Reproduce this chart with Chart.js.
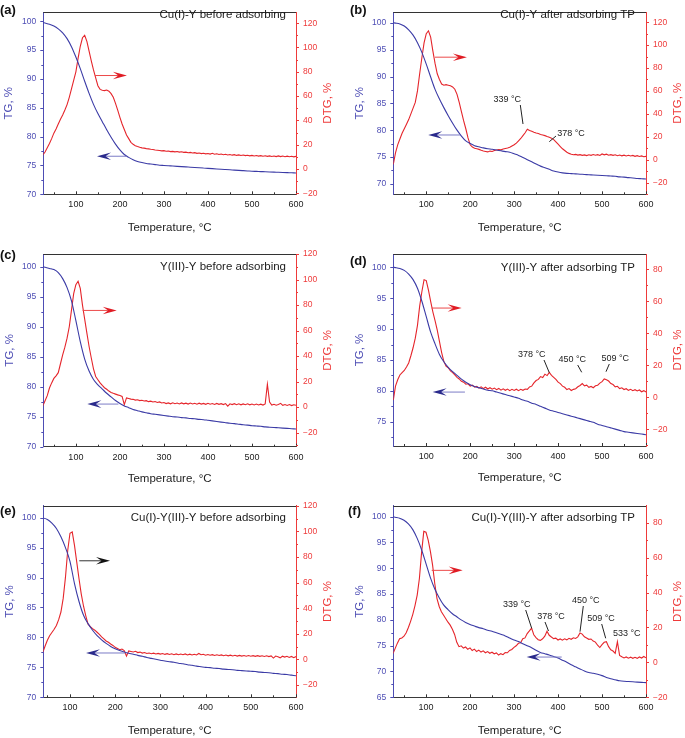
<!DOCTYPE html>
<html>
<head>
<meta charset="utf-8">
<script src="https://cdn.jsdelivr.net/npm/chart.js@4.4.1/dist/chart.umd.min.js"></script>
<style>
  body { margin: 0; background: #fff; width: 685px; height: 738px; position: relative; overflow: hidden; }
  canvas { position: absolute; }
</style>
</head>
<body>
<canvas id="chartA" width="340" height="240" style="left:0;top:0"></canvas>
<canvas id="chartB" width="345" height="240" style="left:340px;top:0"></canvas>
<canvas id="chartC" width="340" height="245" style="left:0;top:240px"></canvas>
<canvas id="chartD" width="345" height="245" style="left:340px;top:240px"></canvas>
<canvas id="chartE" width="340" height="253" style="left:0;top:485px"></canvas>
<canvas id="chartF" width="345" height="253" style="left:340px;top:485px"></canvas>
<script>
// ----- data
const tgTemps = [25, 30, 40, 50, 60, 70, 80, 90, 100, 110,
  120, 130, 140, 150, 160, 170, 180, 190, 200, 210,
  220, 230, 240, 250, 260, 270, 280, 290, 300, 310,
  320, 330, 340, 350, 360, 370, 380, 390, 400, 410,
  420, 430, 440, 450, 460, 470, 480, 490, 500, 510,
  520, 530, 540, 550, 560, 570, 580, 590, 600];

const dtgTemps = [25, 30, 35, 40, 45, 50, 55, 60, 65, 70,
  75, 80, 85, 90, 95, 100, 105, 110, 115, 120,
  125, 130, 135, 140, 145, 150, 155, 160, 165, 170,
  175, 180, 185, 190, 195, 200, 205, 210, 215, 220,
  225, 230, 235, 240, 245, 250, 255, 260, 265, 270,
  275, 280, 285, 290, 295, 300, 305, 310, 315, 320,
  325, 330, 335, 340, 345, 350, 355, 360, 365, 370,
  375, 380, 385, 390, 395, 400, 405, 410, 415, 420,
  425, 430, 435, 440, 445, 450, 455, 460, 465, 470,
  475, 480, 485, 490, 495, 500, 505, 510, 515, 520,
  525, 530, 535, 540, 545, 550, 555, 560, 565, 570,
  575, 580, 585, 590, 595, 600];

const xTicks = [100, 200, 300, 400, 500, 600];
const tgTicks70 = [70, 75, 80, 85, 90, 95, 100];
const tgTicks75 = [75, 80, 85, 90, 95, 100];
const tgTicks65 = [65, 70, 75, 80, 85, 90, 95, 100];
const dtgTicks120 = [-20, 0, 20, 40, 60, 80, 100, 120];
const dtgTicks80 = [-20, 0, 20, 40, 60, 80];

// (a) Cu(I)-Y before adsorbing
const tgA = [99.8, 99.7, 99.5, 99.2, 98.7, 98.0, 97.0, 95.6, 93.8, 91.8,
  89.6, 87.5, 85.6, 84.0, 82.6, 81.2, 79.9, 78.7, 77.7, 76.9,
  76.4, 76.0, 75.7, 75.5, 75.35, 75.25, 75.15, 75.05, 75.0, 74.95,
  74.9, 74.85, 74.8, 74.75, 74.7, 74.65, 74.6, 74.55, 74.5, 74.45,
  74.4, 74.35, 74.3, 74.25, 74.2, 74.15, 74.1, 74.05, 74.0, 73.97,
  73.94, 73.91, 73.88, 73.85, 73.82, 73.79, 73.76, 73.73, 73.7];
const dtgA = [11.5, 14, 17.5, 21, 25, 29.5, 33, 37, 41, 44.5,
  48.5, 53, 59, 66, 73, 80, 91, 101, 108, 110,
  105, 97, 89, 81.5, 75, 68.5, 65.5, 64.8, 64.5, 65,
  64, 62, 59, 54, 48.5, 42.5, 37, 32.5, 28, 25,
  22, 20.3, 19.2, 18.5, 17.9, 17.4, 17.2, 16.8, 16.6, 16.2,
  16.0, 15.6, 15.4, 15.2, 14.9, 15.1, 14.6, 14.8, 14.3, 14.5,
  14.1, 14.4, 13.9, 14.2, 13.7, 13.9, 13.4, 13.7, 13.2, 13.5,
  12.9, 13.2, 12.7, 13.0, 12.5, 12.8, 12.3, 12.9, 12.2, 12.5,
  11.9, 12.3, 11.8, 12.1, 11.6, 11.9, 11.4, 11.8, 11.2, 11.6,
  11.1, 11.5, 11.0, 11.3, 10.8, 11.2, 10.7, 11.1, 10.6, 11.0,
  10.5, 10.9, 10.4, 10.8, 10.3, 10.7, 10.2, 10.8, 10.2, 10.7,
  10.1, 10.6, 10.1, 10.5, 10.0, 10.4];

// (b) Cu(I)-Y after adsorbing TP
const tgB = [100.0, 99.95, 99.8, 99.4, 98.7, 97.7, 96.3, 94.5, 92.3, 89.9,
  87.6, 85.8, 84.2, 82.7, 81.3, 80.0, 78.9, 78.0, 77.5, 77.1,
  76.9, 76.7, 76.55, 76.45, 76.3, 76.15, 76.0, 75.9, 75.6, 75.3,
  74.9, 74.5, 74.1, 73.7, 73.3, 73.0, 72.7, 72.4, 72.2, 72.05,
  71.95, 71.9, 71.85, 71.8, 71.75, 71.7, 71.65, 71.6, 71.55, 71.5,
  71.45, 71.4, 71.3, 71.25, 71.15, 71.1, 71.0, 70.95, 70.9];
const dtgB = [-4, 6, 13, 18, 23, 27, 31, 35, 40, 45,
  50, 60, 75, 89, 102, 110, 112.5, 107, 95, 84,
  75, 70, 66, 65, 65.5, 65, 64.5, 63.5, 61.5, 57,
  50, 42, 34, 27, 19, 13, 11, 10, 9.5, 9,
  8.2, 7.6, 7.2, 6.8, 7.5, 7.2, 8, 8.4, 8.8, 8.6,
  9.4, 9.8, 10.2, 10.8, 12, 13, 14.5, 16.5, 18.5, 21,
  23.5, 26.5, 25.5, 24.8, 24, 23.3, 22.8, 22, 21.5, 21,
  20.2, 19.6, 18.8, 17.5, 15.5, 13.5, 11.5, 9.5, 8, 6.5,
  5.5, 4.8, 4.3, 4.6, 4, 4.4, 3.8, 4.2, 3.6, 4.3,
  3.8, 4.5, 3.9, 4.4, 3.7, 5, 4.2, 4.8, 3.9, 4.4,
  3.8, 4.3, 3.5, 4.1, 3.4, 4, 3.3, 3.9, 3.2, 3.7,
  2.9, 3.5, 2.8, 3.3, 2.6, 2.9];

// (c) Y(III)-Y before adsorbing
const tgC = [100, 99.9, 99.7, 99.5, 99.0, 98.0, 96.5, 94.3, 91.0, 87.5,
  84.6, 82.6, 81.2, 80.3, 79.6, 78.9, 78.3, 77.7, 77.2, 76.8,
  76.5, 76.2, 76.0, 75.8, 75.65, 75.5, 75.4, 75.3, 75.2, 75.1,
  75.0, 74.95, 74.85, 74.8, 74.7, 74.65, 74.55, 74.5, 74.4, 74.3,
  74.2, 74.1, 74.0, 73.9, 73.85, 73.75, 73.65, 73.6, 73.5, 73.45,
  73.4, 73.3, 73.25, 73.2, 73.15, 73.1, 73.05, 73.0, 72.95];
const dtgC = [1, 5, 9, 15, 19, 22.5, 24.5, 27, 34, 41,
  47, 54, 63, 76, 89, 96, 98.6, 93, 80, 69,
  58, 47.5, 38.5, 30, 24, 21.5, 19, 17, 15.2, 14,
  12.6, 11.5, 10.8, 10.2, 9.6, 9.1, 8.4, 2, 7.2, 6.8,
  6.3, 6.1, 5.5, 5.8, 5.1, 5.4, 4.8, 5.1, 4.3, 4.7,
  4.0, 4.4, 3.7, 4.1, 3.3, 3.6, 2.8, 3.3, 2.6, 3.4,
  2.7, 3.2, 2.5, 3.3, 2.6, 3.1, 2.4, 3.2, 2.5, 3.0,
  2.3, 3.1, 2.4, 2.9, 2.2, 3.0, 2.3, 2.8, 2.1, 2.9,
  2.2, 2.7, 2.0, 2.8, 0.8, 2.6, 2.0, 2.7, 1.9, 2.6,
  1.8, 2.5, 1.9, 2.6, 1.8, 2.4, 1.7, 2.4, 1.7, 2.3,
  1.6, 2.5, 18, 4, 1.6, 2.2, 1.5, 2.1, 3.0, 1.4,
  2.0, 1.3, 2.0, 1.2, 1.9, 1.5];

// (d) Y(III)-Y after adsorbing TP
const tgD = [100, 99.95, 99.8, 99.5, 98.9, 98.0, 96.6, 94.5, 92.0, 89.5,
  87.6, 85.9, 84.7, 83.8, 83.1, 82.5, 81.9, 81.4, 81.0, 80.7,
  80.5, 80.3, 80.1, 80.0, 79.8, 79.6, 79.4, 79.2, 79.0, 78.8,
  78.5, 78.3, 78.0, 77.8, 77.5, 77.2, 76.9, 76.7, 76.5, 76.3,
  76.1, 75.9, 75.7, 75.5, 75.3, 75.1, 74.9, 74.6, 74.4, 74.2,
  74.0, 73.8, 73.6, 73.4, 73.3, 73.2, 73.1, 73.0, 72.9];
const dtgD = [-1.7, 7, 11, 14, 15.5, 16.8, 19, 21.5, 26, 31,
  37, 45, 57, 66, 73.5, 73, 67, 60, 53.5, 48,
  42, 35, 28, 22.5, 19.5, 18.5, 16.5, 15.5, 14, 12.5,
  11.5, 10, 9.5, 8.2, 8.5, 7.1, 7.6, 6.4, 6.9, 5.8,
  6.6, 5.5, 6.3, 5.2, 6.0, 5.1, 5.8, 4.8, 5.6, 4.5,
  5.3, 4.4, 5.2, 4.2, 5.0, 4.3, 5.1, 4.2, 5.0, 4.4,
  5.2, 5.0, 6.5, 7.0, 9.0, 10.5, 11.2, 13.0, 12.4, 14.5,
  13.6, 15.6, 13.8, 12.5, 11.2, 9.5, 8.6, 7.0, 6.3, 4.9,
  5.5, 4.3, 5.0, 5.4, 6.6, 7.4, 8.6, 7.2, 7.6, 6.3,
  6.8, 6.0, 7.2, 7.6, 8.9, 9.8, 11.5, 11.0, 10.2, 8.6,
  8.0, 6.6, 6.9, 5.5, 6.0, 4.9, 5.4, 4.4, 5.0, 4.2,
  4.8, 4.0, 4.6, 3.5, 4.2, 3.4];

// (e) Cu(I)-Y(III)-Y before adsorbing
const tgE = [100, 100, 99.95, 99.7, 99.1, 98.2, 96.8, 95.0, 92.7, 89.0,
  86.0, 83.7, 82.3, 81.2, 80.3, 79.6, 79.0, 78.5, 78.1, 77.8,
  77.55, 77.35, 77.2, 77.0, 76.85, 76.65, 76.5, 76.35, 76.2, 76.05,
  75.95, 75.85, 75.7, 75.6, 75.45, 75.35, 75.2, 75.1, 75.0, 74.95,
  74.85, 74.8, 74.7, 74.65, 74.6, 74.5, 74.45, 74.4, 74.35, 74.3,
  74.2, 74.15, 74.1, 74.0, 73.95, 73.85, 73.8, 73.7, 73.6];
const dtgE = [0, 1, 3, 5.5, 10.5, 15, 18.5, 21, 23.5, 26.5,
  31, 37, 47.6, 64, 85, 98.5, 99.5, 89, 76, 63,
  51, 41.5, 34, 27.5, 25.5, 24, 22.8, 21.2, 19.5, 17.6,
  16, 14.4, 13.4, 12, 10.9, 9.4, 8.6, 7.6, 8.1, 6.9,
  2.5, 6.6, 6.2, 5.8, 6.3, 5.3, 5.7, 4.9, 5.4, 4.6,
  5.0, 4.4, 4.9, 4.2, 4.7, 4.1, 4.6, 3.9, 4.5, 3.8,
  4.4, 3.7, 4.3, 3.6, 4.2, 3.6, 4.3, 3.5, 4.1, 3.4,
  4.0, 3.5, 4.6, 3.6, 4.0, 3.3, 3.8, 3.2, 3.7, 3.1,
  3.6, 3.0, 3.5, 2.9, 3.4, 2.8, 3.3, 2.7, 3.2, 2.6,
  3.1, 2.6, 3.0, 2.5, 3.0, 2.5, 2.9, 2.4, 2.9, 2.4,
  2.8, 2.3, 2.8, 2.2, 2.7, 1.0, 2.6, 2.1, 1.2, 2.5,
  1.8, 2.4, 1.5, 2.3, 1.3, 2.2];

// (f) Cu(I)-Y(III)-Y after adsorbing TP
const tgF = [100, 99.9, 99.7, 99.3, 98.6, 97.5, 95.8, 93.6, 90.9, 88.2,
  86.0, 84.3, 82.9, 82.0, 81.2, 80.6, 80.0, 79.5, 79.1, 78.8,
  78.5, 78.3, 78.0, 77.8, 77.5, 77.2, 76.9, 76.5, 76.1, 75.8,
  75.4, 75.0, 74.6, 74.1, 73.7, 73.45, 73.2, 72.9, 72.6, 72.2,
  71.8, 71.3, 70.9, 70.5, 70.1, 69.8, 69.65, 69.45, 69.2, 68.85,
  68.6, 68.4, 68.2, 68.1, 68.05, 68.0, 67.95, 67.9, 67.85];
const dtgF = [5, 8, 11, 13.5, 14, 15, 17, 20, 23.5, 27.5,
  32.5, 38.5, 48, 63, 75, 74.5, 70, 63.5, 55.7, 45,
  36.5, 32, 29, 27, 25, 23, 21.3, 19, 16, 11.5,
  9, 9.5, 8.2, 8.8, 7.5, 8.3, 6.8, 7.6, 6.2, 7.0,
  5.9, 6.6, 5.5, 6.2, 5.2, 5.8, 4.9, 5.4, 4.2, 5.0,
  4.4, 5.6, 5.5, 6.8, 7.4, 8.6, 9.5, 10.9, 11.2, 13.5,
  14.0, 16.5, 18.0, 19.6, 15.8, 14.2, 13.0, 12.6, 13.5, 15.0,
  17.8, 15.5, 14.5, 13.6, 13.9, 12.8, 13.4, 12.7, 13.5, 12.9,
  13.8, 13.2, 14.1, 13.7, 14.6, 16.8, 16.2, 14.6, 14.0, 13.2,
  13.4, 12.2, 11.6, 9.8, 8.5, 10.2, 11.5, 11.8, 9.0, 7.2,
  6.5, 5.2, 11.8, 4.0, 3.2, 2.5, 3.1, 2.4, 3.0, 2.3,
  2.9, 2.3, 3.1, 2.5, 3.4, 2.6];

// ----- styles
const FONT = "'Liberation Sans', Arial, sans-serif";
const BLUE = '#3b3ba6';
const BLUE_TXT = '#4d4db4';
const RED = '#e5252b';
const RED_TXT = '#ee3a3a';
const DARK = '#1c1c1c';

function pts(xs, ys) {
  return xs.map((t, i) => ({ x: t, y: ys[i] }));
}

function seg(ctx, x0, y0, x1, y1) {
  ctx.beginPath();
  ctx.moveTo(x0, y0);
  ctx.lineTo(x1, y1);
  ctx.stroke();
}

function arrow(ctx, x0, x1, y, kind) {
  const dir = x1 > x0 ? 1 : -1;
  const col = {
    red: ['#ec4a4a', '#e01c24'],
    blue: ['#7c7cc6', '#2a2a8c'],
    black: ['#333', '#111']
  }[kind];
  ctx.lineWidth = 1;
  ctx.strokeStyle = col[0];
  seg(ctx, x0, y, x1 - dir * 8, y);
  ctx.fillStyle = col[1];
  ctx.beginPath();
  ctx.moveTo(x1, y);
  ctx.lineTo(x1 - dir * 14, y - 3.8);
  ctx.lineTo(x1 - dir * 8.5, y);
  ctx.lineTo(x1 - dir * 14, y + 3.8);
  ctx.closePath();
  ctx.fill();
}

// draws the frame details, arrows, peak labels and panel texts
function makeDecor(p) {
  return {
    id: 'decor',
    afterDraw(chart) {
      const ctx = chart.ctx, a = chart.chartArea;
      const sx = chart.scales.x, sy = chart.scales.y, sr = chart.scales.y1;
      ctx.save();
      ctx.lineWidth = 1;

      // top frame line
      ctx.strokeStyle = '#333';
      seg(ctx, a.left, Math.round(a.top) + 0.5, a.right, Math.round(a.top) + 0.5);

      // x ticks point into the plot
      for (let v = 50; v <= 600; v += 50) {
        if (v <= sx.min) continue;
        const px = Math.round(sx.getPixelForValue(v)) + 0.5;
        seg(ctx, px, a.bottom, px, a.bottom - (v % 100 ? 2 : 3));
      }
      // TG ticks
      ctx.strokeStyle = BLUE_TXT;
      for (let v = Math.ceil(sy.min / 2.5) * 2.5; v <= sy.max; v += 2.5) {
        const py = Math.round(sy.getPixelForValue(v)) + 0.5;
        seg(ctx, a.left, py, a.left - (v % 5 ? 2 : 3), py);
      }
      // DTG ticks
      ctx.strokeStyle = RED_TXT;
      for (let v = Math.ceil(sr.min / 10) * 10; v <= sr.max + 0.01; v += 10) {
        const py = Math.round(sr.getPixelForValue(v)) + 0.5;
        seg(ctx, a.right, py, a.right + (v % 20 ? 2 : 3), py);
      }

      // arrows pointing to each curve's axis
      p.arrows.forEach(ar => {
        const y = sy.getPixelForValue(ar.tg);
        arrow(ctx, sx.getPixelForValue(ar.from), sx.getPixelForValue(ar.to), y, ar.kind);
      });

      // peak labels
      ctx.font = '9px ' + FONT;
      ctx.fillStyle = DARK;
      ctx.strokeStyle = '#222';
      ctx.textAlign = 'center';
      ctx.textBaseline = 'middle';
      p.notes.forEach(n => {
        ctx.fillText(n.text, n.x, n.y);
        if (n.line) seg(ctx, n.line[0], n.line[1], n.line[2], n.line[3]);
      });

      // panel title and letter
      ctx.font = '11.5px ' + FONT;
      ctx.textAlign = 'right';
      ctx.fillText(p.title, p.titlePos[0], p.titlePos[1]);
      ctx.font = 'bold 13px ' + FONT;
      ctx.textAlign = 'left';
      ctx.fillStyle = '#111';
      ctx.fillText(p.letter, p.letterPos[0], p.letterPos[1]);

      // DTG axis title reads bottom to top
      ctx.save();
      ctx.translate(p.y1TitleX, (a.top + a.bottom) / 2);
      ctx.rotate(-Math.PI / 2);
      ctx.font = '11.5px ' + FONT;
      ctx.fillStyle = RED_TXT;
      ctx.textAlign = 'center';
      ctx.fillText('DTG, %', 0, 0);
      ctx.restore();

      ctx.restore();
    }
  };
}

function drawPanel(id, p) {
  const canvas = document.getElementById(id);
  const W = canvas.width, H = canvas.height;
  const tickFont = { family: FONT, size: 8.5 };
  const titleFont = { family: FONT, size: 11.5 };

  new Chart(canvas, {
    type: 'line',
    data: {
      datasets: [
        {
          label: 'TG',
          data: pts(tgTemps, p.tg),
          yAxisID: 'y',
          borderColor: BLUE,
          borderWidth: 1.1,
          pointRadius: 0,
          cubicInterpolationMode: 'monotone'
        },
        {
          label: 'DTG',
          data: pts(dtgTemps, p.dtg),
          yAxisID: 'y1',
          borderColor: RED,
          borderWidth: 1.1,
          pointRadius: 0,
          tension: 0
        }
      ]
    },
    options: {
      responsive: false,
      animation: false,
      devicePixelRatio: 1,
      layout: { padding: { top: p.box.top, left: 0, right: 0, bottom: 0 } },
      plugins: { legend: { display: false }, tooltip: { enabled: false } },
      scales: {
        x: {
          type: 'linear',
          min: p.xMin,
          max: 600,
          grid: { display: false, drawTicks: false },
          border: { color: '#3a3a3a' },
          afterBuildTicks: s => { s.ticks = xTicks.map(v => ({ value: v })); },
          afterFit: s => { s.height = H - p.box.bottom; },
          ticks: { font: { family: FONT, size: 9 }, color: DARK, padding: 5, autoSkip: false, maxRotation: 0 },
          title: {
            display: true, text: 'Temperature, °C', font: titleFont, color: DARK,
            padding: { top: 0, bottom: H - p.xTitleY - 6.9 }
          }
        },
        y: {
          position: 'left',
          min: p.tgRange[0],
          max: p.tgRange[1],
          grid: { display: false, drawTicks: false },
          border: { color: BLUE_TXT },
          afterBuildTicks: s => { s.ticks = p.tgTicks.map(v => ({ value: v })); },
          afterFit: s => { s.width = p.box.left; },
          ticks: { font: tickFont, color: BLUE_TXT, padding: 7, callback: v => String(v) },
          title: {
            display: true, text: 'TG, %', font: titleFont, color: BLUE_TXT,
            padding: { top: p.yTitleX - 6.9, bottom: 0 }
          }
        },
        y1: {
          position: 'right',
          min: p.dtgRange[0],
          max: p.dtgRange[1],
          grid: { display: false, drawTicks: false },
          border: { color: RED_TXT },
          afterBuildTicks: s => { s.ticks = p.dtgTicks.map(v => ({ value: v })); },
          afterFit: s => { s.width = W - p.box.right; },
          ticks: {
            font: tickFont, color: RED_TXT, padding: 7,
            callback: v => (v < 0 ? '\u2212' + Math.abs(v) : String(v))
          }
        }
      }
    },
    plugins: [makeDecor(p)]
  });
}

// ----- panels
drawPanel('chartA', {
  tg: tgA, dtg: dtgA, xMin: 26,
  tgRange: [70, 101.6], dtgRange: [-20.8, 129.1],
  tgTicks: tgTicks70, dtgTicks: dtgTicks120,
  box: { left: 43.3, right: 296, top: 2.7, bottom: 194.3 },
  xTitleY: 227.7, yTitleX: 9.2, y1TitleX: 328.3,
  title: 'Cu(I)-Y before adsorbing', titlePos: [286, 15],
  letter: '(a)', letterPos: [0, 10],
  arrows: [
    { from: 143.5, to: 216, tg: 90.6, kind: 'red' },
    { from: 216, to: 148, tg: 76.6, kind: 'blue' }
  ],
  notes: []
});

drawPanel('chartB', {
  tg: tgB, dtg: dtgB, xMin: 25,
  tgRange: [68.05, 102.0], dtgRange: [-30.2, 128.8],
  tgTicks: tgTicks70, dtgTicks: dtgTicks120,
  box: { left: 53.3, right: 306, top: 2.7, bottom: 194.3 },
  xTitleY: 227.7, yTitleX: 20, y1TitleX: 338,
  title: 'Cu(I)-Y after adsorbing TP', titlePos: [295, 15],
  letter: '(b)', letterPos: [10, 10],
  arrows: [
    { from: 119.8, to: 192.5, tg: 93.6, kind: 'red' },
    { from: 176.6, to: 104.5, tg: 79.1, kind: 'blue' }
  ],
  notes: [
    { text: '339 °C', x: 167.3, y: 99.3, line: [180.3, 105, 183, 124] },
    { text: '378 °C', x: 231, y: 133.3, line: [216, 136, 209.3, 141.7] }
  ]
});

drawPanel('chartC', {
  tg: tgC, dtg: dtgC, xMin: 26,
  tgRange: [70, 102.1], dtgRange: [-31, 120],
  tgTicks: tgTicks70, dtgTicks: dtgTicks120,
  box: { left: 43.3, right: 296, top: 14, bottom: 206.7 },
  xTitleY: 239, yTitleX: 10, y1TitleX: 328,
  title: 'Y(III)-Y before adsorbing', titlePos: [286, 27.3],
  letter: '(c)', letterPos: [0, 15],
  arrows: [
    { from: 115.5, to: 192.8, tg: 92.7, kind: 'red' },
    { from: 196.5, to: 126, tg: 77.1, kind: 'blue' }
  ],
  notes: []
});

drawPanel('chartD', {
  tg: tgD, dtg: dtgD, xMin: 25,
  tgRange: [71.07, 102.15], dtgRange: [-30.4, 89.6],
  tgTicks: tgTicks75, dtgTicks: dtgTicks80,
  box: { left: 53.3, right: 306, top: 14, bottom: 206 },
  xTitleY: 238.3, yTitleX: 20, y1TitleX: 338,
  title: 'Y(III)-Y after adsorbing TP', titlePos: [295, 28.3],
  letter: '(d)', letterPos: [10, 21],
  arrows: [
    { from: 112.3, to: 180.5, tg: 93.4, kind: 'red' },
    { from: 188, to: 114.5, tg: 79.8, kind: 'blue' }
  ],
  notes: [
    { text: '378 °C', x: 191.7, y: 115, line: [204, 120, 209.3, 132.7] },
    { text: '450 °C', x: 232.3, y: 120, line: [237.7, 125, 241.7, 132.3] },
    { text: '509 °C', x: 275.3, y: 118.3, line: [269.3, 124, 266, 131.7] }
  ]
});

drawPanel('chartE', {
  tg: tgE, dtg: dtgE, xMin: 41,
  tgRange: [70, 102.0], dtgRange: [-29.6, 120],
  tgTicks: tgTicks70, dtgTicks: dtgTicks120,
  box: { left: 43.3, right: 296, top: 20.7, bottom: 212.3 },
  xTitleY: 245.7, yTitleX: 10, y1TitleX: 327.5,
  title: 'Cu(I)-Y(III)-Y before adsorbing', titlePos: [286, 33.3],
  letter: '(e)', letterPos: [0, 26.7],
  arrows: [
    { from: 120.6, to: 188.6, tg: 92.8, kind: 'black' },
    { from: 222, to: 135.5, tg: 77.4, kind: 'blue' }
  ],
  notes: []
});

drawPanel('chartF', {
  tg: tgF, dtg: dtgF, xMin: 25.7,
  tgRange: [65, 102.13], dtgRange: [-20, 89.7],
  tgTicks: tgTicks65, dtgTicks: dtgTicks80,
  box: { left: 53.3, right: 306, top: 20.7, bottom: 212.3 },
  xTitleY: 245.7, yTitleX: 20, y1TitleX: 338,
  title: 'Cu(I)-Y(III)-Y after adsorbing TP', titlePos: [295, 33.3],
  letter: '(f)', letterPos: [8, 26.7],
  arrows: [
    { from: 113, to: 183.4, tg: 89.6, kind: 'red' },
    { from: 408.4, to: 328.7, tg: 72.8, kind: 'blue' }
  ],
  notes: [
    { text: '339 °C', x: 176.7, y: 119.3, line: [185.7, 125, 191.7, 143.3] },
    { text: '378 °C', x: 211, y: 131.7, line: [205, 137, 208.5, 146] },
    { text: '450 °C', x: 245.7, y: 115.7, line: [243.3, 121, 240, 146.7] },
    { text: '509 °C', x: 261, y: 133.3, line: [261.7, 139, 265.7, 153.3] },
    { text: '533 °C', x: 286.7, y: 148.3 }
  ]
});
</script>
</body>
</html>
